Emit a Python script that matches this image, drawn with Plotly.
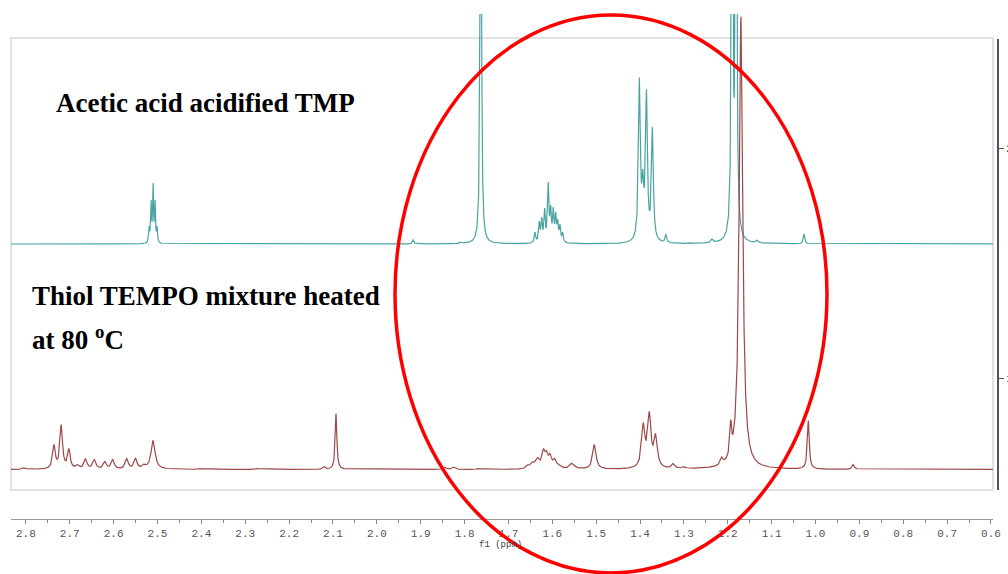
import numpy as np
import plotly.graph_objects as go

# ---- 1H NMR peak tables (chemical shift in ppm, apex intensity, half width in ppm) ----
# Upper trace: acetic acid acidified TMP
teal_shift = [2.519, 2.5145, 2.510, 2.5055, 2.501, 1.917, 1.810, 1.763, 1.757,
              1.6395, 1.6297, 1.6242, 1.6174, 1.6092, 1.6037, 1.5978, 1.5923,
              1.5877, 1.5825, 1.5763, 1.4014, 1.3936, 1.3854, 1.3718, 1.341,
              1.284, 1.236, 1.190, 1.181, 1.133, 1.026]
teal_height = [18, 44, 61, 44, 18, 4, 2, 600, 5,
               12, 23, 27, 36, 62, 39, 37, 32,
               25, 20, 12, 167, 75, 155, 117, 10,
               1.5, 5, 550, 550, 4, 10]
teal_hwhm = [0.0012, 0.0012, 0.0012, 0.0012, 0.0012, 0.002, 0.002, 0.0015, 0.002,
             0.0018, 0.0018, 0.0018, 0.0018, 0.0018, 0.0018, 0.0018, 0.0018,
             0.0018, 0.0018, 0.0018, 0.0025, 0.0025, 0.0025, 0.0025, 0.002,
             0.003, 0.003, 0.0018, 0.0018, 0.003, 0.002]

# Lower trace: thiol / TEMPO mixture heated at 80 oC
brown_shift = [2.805, 2.736, 2.7195, 2.702, 2.682, 2.664, 2.644, 2.620, 2.602,
               2.570, 2.550, 2.531, 2.510, 2.403, 2.273, 2.120, 2.093, 1.845,
               1.824, 1.769, 1.655, 1.644, 1.633, 1.620, 1.613, 1.605, 1.594,
               1.582, 1.5545, 1.504, 1.3925, 1.3788, 1.3644, 1.3242, 1.2998,
               1.2138, 1.1933, 1.170, 1.0164, 0.914]
brown_height = [2, 25, 45, 21, 5, 11, 10, 8, 10,
                11, 11.5, 5.5, 29, 1, 1, 3, 56, 2.5,
                2.5, 1, 5, 8, 12, 21, 19, 16, 11,
                4, 6.5, 25, 47, 58, 36, 6, 3.3,
                12.5, 50, 453, 49, 5]
brown_hwhm = [0.004, 0.0035, 0.0035, 0.0035, 0.004, 0.004, 0.004, 0.004, 0.004,
              0.004, 0.004, 0.004, 0.0055, 0.005, 0.005, 0.003, 0.0022, 0.004,
              0.004, 0.004, 0.005, 0.005, 0.005, 0.004, 0.004, 0.004, 0.005,
              0.005, 0.006, 0.0045, 0.0045, 0.0045, 0.0045, 0.004, 0.004,
              0.0035, 0.0025, 0.0048, 0.0025, 0.003]

x_ticks = [2.8, 2.7, 2.6, 2.5, 2.4, 2.3, 2.2, 2.1, 2.0, 1.9, 1.8, 1.7,
           1.6, 1.5, 1.4, 1.3, 1.2, 1.1, 1.0, 0.9, 0.8, 0.7, 0.6]
right_ticks = [1, 2]

# vertical stacking of the two spectra
TEAL_OFFSET = 275.0
BROWN_OFFSET = 49.5


def lorentz(x, x0, g):
    return g * g / (g * g + (x - x0) ** 2)


def spectrum(x, shifts, heights, widths):
    """Sum of Lorentzian lines whose apexes reach the tabulated heights."""
    s = np.asarray(shifts, float)
    h = np.asarray(heights, float)
    w = np.asarray(widths, float)
    m = lorentz(s[:, None], s[None, :], w[None, :])
    amp = np.clip(np.linalg.solve(m, h), 0, None)
    y = np.zeros_like(x)
    for a, c, g in zip(amp, s, w):
        y += a * lorentz(x, c, g)
    return y


ppm = np.arange(0.59, 2.84, 0.0003)
teal_y = TEAL_OFFSET + spectrum(ppm, teal_shift, teal_height, teal_hwhm)
brown_y = BROWN_OFFSET + spectrum(ppm, brown_shift, brown_height, brown_hwhm)

# ---- page geometry helpers (pixels -> paper fractions) ----
W, H = 1008, 574
ML, MR, MT, MB = 11, 10, 14, 55
PW, PH = W - ML - MR, H - MT - MB


def px(xp):
    return (xp - ML) / PW


def py(yp):
    return (H - MB - yp) / PH


fig = go.Figure()
fig.add_trace(go.Scatter(x=ppm, y=teal_y, mode="lines",
                         line=dict(color="#4aa3a3", width=1.2),
                         hoverinfo="skip", showlegend=False))
fig.add_trace(go.Scatter(x=ppm, y=brown_y, mode="lines",
                         line=dict(color="#9c4848", width=1.2),
                         hoverinfo="skip", showlegend=False))
# empty series so the right-hand intensity axis is rendered
fig.add_trace(go.Scatter(x=[None], y=[None], yaxis="y2", mode="lines",
                         hoverinfo="skip", showlegend=False))

mono = "Liberation Mono, DejaVu Sans Mono, monospace"
serif = "Liberation Serif, Times New Roman, serif"

# right intensity scale: 230 px per unit, "2" at 148 px, "1" at 378 px from the top
y2_lo = 2 - ((H - MB) - 148) / 230
y2_hi = 2 + (148 - MT) / 230

fig.update_layout(
    width=W, height=H,
    margin=dict(l=ML, r=MR, t=MT, b=MB, autoexpand=False),
    paper_bgcolor="white", plot_bgcolor="white",
    showlegend=False,
    xaxis=dict(
        domain=[0, px(993)],
        range=[2.834, 0.5954],
        automargin=False,
        tickmode="array", tickvals=x_ticks,
        ticktext=[f"{v:.1f}" for v in x_ticks],
        tickfont=dict(family=mono, size=11, color="#555"),
        ticks="outside", ticklen=4, tickcolor="#888",
        minor=dict(ticks="outside", dtick=0.05, tick0=0, ticklen=3, tickcolor="#888"),
        showline=True, linecolor="#999", linewidth=1,
        showgrid=False, zeroline=False,
    ),
    yaxis=dict(range=[0, PH], visible=False, fixedrange=True, automargin=False),
    yaxis2=dict(
        overlaying="y", anchor="free", position=1, side="right",
        automargin=False,
        range=[y2_lo, y2_hi],
        tickmode="array", tickvals=right_ticks,
        ticks="outside", ticklen=5, tickcolor="#555",
        tickfont=dict(family=mono, size=11, color="#333"),
        showline=False,
        showgrid=False, zeroline=False,
    ),
)

# right-hand axis spine (spans only the framed region)
fig.add_shape(type="line", xref="paper", yref="paper",
              x0=1, x1=1, y0=py(490), y1=py(39),
              line=dict(color="#555", width=2))

# light frame around the spectra
fig.add_shape(type="rect", xref="paper", yref="paper",
              x0=0, x1=px(993), y0=py(490), y1=py(38),
              line=dict(color="#e2e2e2", width=2), layer="below")

# red ellipse highlighting the 1.0–1.9 ppm region
fig.add_shape(type="circle", xref="paper", yref="paper",
              x0=px(395), x1=px(827), y0=py(573), y1=py(15),
              line=dict(color="#ff0000", width=3.5), layer="above")

fig.add_annotation(text="<b>Acetic acid acidified TMP</b>", xref="paper", yref="paper",
                   x=px(54), y=py(103), xanchor="left", yanchor="middle", showarrow=False,
                   font=dict(family=serif, size=27, color="black"))
fig.add_annotation(text="<b>Thiol TEMPO mixture heated</b>", xref="paper", yref="paper",
                   x=px(30), y=py(296), xanchor="left", yanchor="middle", showarrow=False,
                   font=dict(family=serif, size=27, color="black"))
fig.add_annotation(text="<b>at 80 <sup>o</sup>C</b>", xref="paper", yref="paper",
                   x=px(30), y=py(338), xanchor="left", yanchor="middle", showarrow=False,
                   font=dict(family=serif, size=27, color="black"))
fig.add_annotation(text="f1 (ppm)", xref="paper", yref="paper",
                   x=px(500), y=py(545), xanchor="center", yanchor="middle", showarrow=False,
                   font=dict(family=mono, size=9, color="#444"))

fig.write_html("out.html")
